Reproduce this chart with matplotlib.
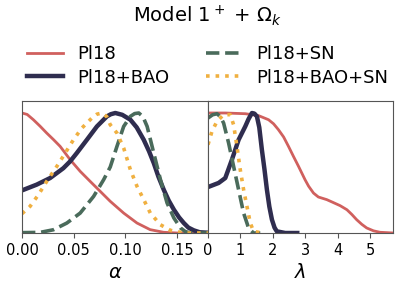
import matplotlib
matplotlib.use("Agg")
import matplotlib.pyplot as plt

# posterior curves (normalised to peak = 1)
alpha_pl18 = [0, 0.005, 0.011, 0.0175, 0.0239, 0.0305, 0.0369, 0.0466, 0.0563, 0.066, 0.0757, 0.0854,
              0.0984, 0.1113, 0.124, 0.137, 0.15, 0.185]
p_alpha_pl18 = [1.0, 0.988, 0.944, 0.89, 0.833, 0.778, 0.722, 0.611, 0.514, 0.43, 0.347, 0.264,
                0.166, 0.083, 0.028, 0.006, 0.0, 0.0]

alpha_bao = [0, 0.0142, 0.0272, 0.04, 0.0466, 0.053, 0.0628, 0.0725, 0.0822, 0.086, 0.0903, 0.097,
             0.1049, 0.111, 0.1178, 0.123, 0.1275, 0.132, 0.1372, 0.142, 0.147, 0.152, 0.1566,
             0.161, 0.1663, 0.172, 0.185]
p_alpha_bao = [0.355, 0.403, 0.458, 0.54, 0.597, 0.666, 0.777, 0.888, 0.972, 0.99, 1.0, 0.985,
               0.944, 0.88, 0.777, 0.68, 0.583, 0.47, 0.36, 0.27, 0.194, 0.13, 0.083,
               0.045, 0.022, 0.006, 0.0]

alpha_sn = [0, 0.0175, 0.0304, 0.0434, 0.0563, 0.0693, 0.079, 0.0854, 0.0919, 0.0984, 0.1049, 0.109,
            0.113, 0.117, 0.1211, 0.1275, 0.134, 0.1404, 0.147, 0.1534, 0.158, 0.163, 0.185]
p_alpha_sn = [0.003, 0.005, 0.027, 0.083, 0.166, 0.305, 0.444, 0.55, 0.722, 0.888, 0.972, 0.995,
              1.0, 0.97, 0.888, 0.666, 0.444, 0.25, 0.125, 0.042, 0.012, 0.0, 0.0]

alpha_bao_sn = [0, 0.0078, 0.0159, 0.0239, 0.0337, 0.0418, 0.0498, 0.0579, 0.0676, 0.0725, 0.0774,
                0.082, 0.0854, 0.0919, 0.0984, 0.1049, 0.1113, 0.1178, 0.1242, 0.1339, 0.1437,
                0.1566, 0.185]
p_alpha_bao_sn = [0.161, 0.222, 0.319, 0.43, 0.555, 0.666, 0.777, 0.874, 0.958, 0.99, 1.0,
                  0.97, 0.902, 0.833, 0.708, 0.527, 0.389, 0.278, 0.166, 0.069, 0.022,
                  0.0, 0.0]

lam_pl18 = [0, 0.532, 1.15, 1.558, 1.865, 2.02, 2.17, 2.33, 2.48, 2.63, 2.79, 2.99, 3.1, 3.25, 3.4,
            3.66, 3.85, 4.07, 4.28, 4.43, 4.58, 4.74, 4.89, 5.1, 5.3, 5.71]
p_lam_pl18 = [1.0, 1.0, 0.994, 0.978, 0.944, 0.91, 0.861, 0.80, 0.722, 0.64, 0.555, 0.444, 0.39,
              0.333, 0.30, 0.278, 0.255, 0.228, 0.194, 0.155, 0.111, 0.072, 0.042, 0.018, 0.006, 0.0]

lam_bao = [0, 0.327, 0.532, 0.737, 0.943, 1.148, 1.25, 1.353, 1.43, 1.507, 1.58, 1.66, 1.74,
           1.815, 1.89, 1.97, 2.05, 2.12, 2.38, 2.75]
p_lam_bao = [0.383, 0.417, 0.458, 0.611, 0.777, 0.888, 0.95, 1.0, 0.995, 0.972, 0.88, 0.694, 0.53,
             0.361, 0.22, 0.111, 0.045, 0.014, 0.0, 0.0]

lam_sn = [0, 0.14, 0.276, 0.38, 0.481, 0.635, 0.789, 0.943, 1.097, 1.25, 1.4, 1.61]
p_lam_sn = [0.958, 0.985, 0.994, 0.97, 0.916, 0.75, 0.555, 0.361, 0.166, 0.042, 0.0, 0.0]

lam_bao_sn = [0, 0.122, 0.276, 0.481, 0.686, 0.789, 0.891, 0.994, 1.097, 1.2, 1.302, 1.405, 1.66]
p_lam_bao_sn = [0.736, 0.847, 0.93, 0.986, 0.986, 0.902, 0.722, 0.527, 0.361, 0.222, 0.083, 0.014, 0.0]

labels = ["Pl18", "Pl18+BAO", "Pl18+SN", "Pl18+BAO+SN"]
colors = ["#d0605e", "#2f2d4f", "#4a6b5b", "#f0b040"]
styles = ["-", "-", "--", ":"]
widths = [2.0, 3.2, 2.6, 2.6]

fig = plt.figure(figsize=(3.99, 2.84), dpi=100)
ax1 = fig.add_axes([22 / 399, 51 / 284, 186 / 399, 132 / 284])
ax2 = fig.add_axes([208 / 399, 51 / 284, 185 / 399, 132 / 284])

left_data = [(alpha_pl18, p_alpha_pl18), (alpha_bao, p_alpha_bao),
             (alpha_sn, p_alpha_sn), (alpha_bao_sn, p_alpha_bao_sn)]
right_data = [(lam_pl18, p_lam_pl18), (lam_bao, p_lam_bao),
              (lam_sn, p_lam_sn), (lam_bao_sn, p_lam_bao_sn)]

for i in range(4):
    ax1.plot(left_data[i][0], left_data[i][1], ls=styles[i], color=colors[i], lw=widths[i], label=labels[i])
    ax2.plot(right_data[i][0], right_data[i][1], ls=styles[i], color=colors[i], lw=widths[i])

ax1.set_xlim(0, 0.18)
ax2.set_xlim(0, 5.7)
ax1.set_xticks([0, 0.05, 0.10, 0.15])
ax1.set_xticklabels(["0.00", "0.05", "0.10", "0.15"])
ax2.set_xticks([0, 1, 2, 3, 4, 5])
for ax in (ax1, ax2):
    ax.set_ylim(0, 1.1)
    ax.set_yticks([])
    ax.tick_params(axis="x", labelsize=10.5, length=3.5, color="#555555")
    for s in ax.spines.values():
        s.set_color("#555555")
        s.set_linewidth(0.8)
ax1.set_xlabel(r"$\alpha$", fontsize=14)
ax2.set_xlabel(r"$\lambda$", fontsize=14)

fig.text(0.52, 0.945, r"Model $1^+$ + $\Omega_k$", ha="center", va="center", fontsize=14)
h, l = ax1.get_legend_handles_labels()
fig.legend(h, l, ncol=2, loc="center", bbox_to_anchor=(0.52, 0.768), frameon=False,
           fontsize=13, labelspacing=0.3, columnspacing=2.0, handlelength=2.0)

fig.savefig("out.png", dpi=100)
